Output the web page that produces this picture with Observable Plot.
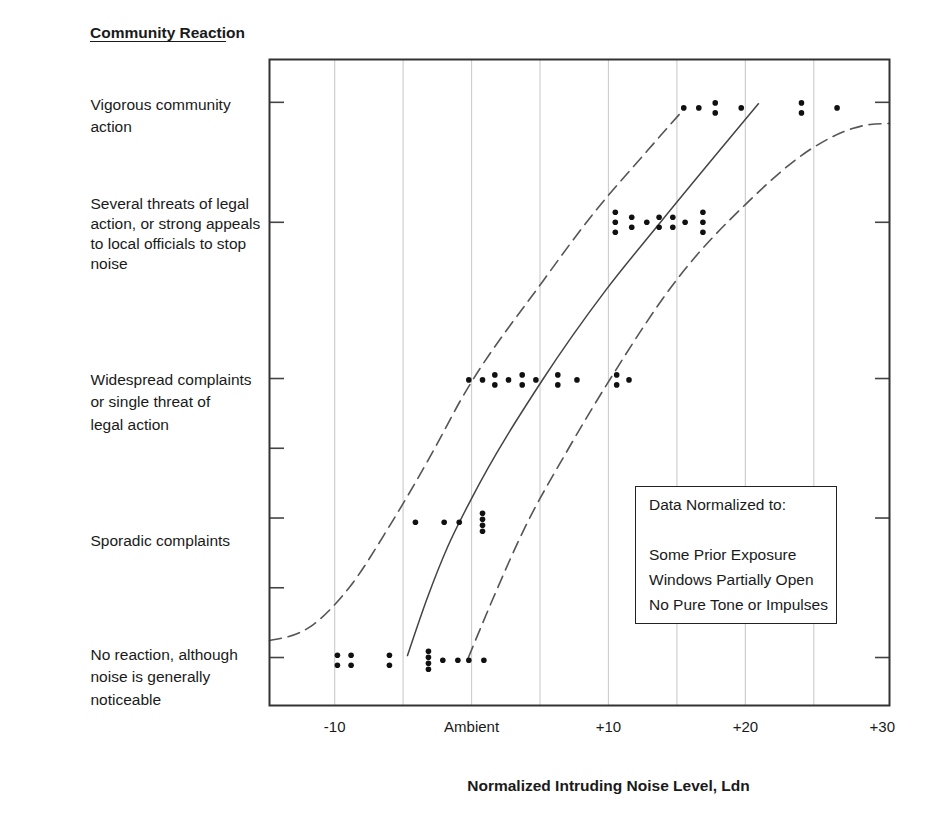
<!DOCTYPE html>
<html>
<head>
<meta charset="utf-8">
<script src="https://cdn.jsdelivr.net/npm/d3@7"></script>
<script src="https://cdn.jsdelivr.net/npm/@observablehq/plot@0.6"></script>
<style>
  body { margin: 0; background: #fff; font-family: "Liberation Sans", Arial, sans-serif; color: #1a1a1a; }
  #wrap { position: relative; width: 949px; height: 815px; overflow: hidden; }
  #chart { position: absolute; left: 0; top: 0; }
  #title { position: absolute; left: 90px; top: 23px; font-size: 15.5px; font-weight: bold; line-height: 20px; white-space: nowrap; }
  #title span { text-decoration: underline; text-underline-offset: 3px; }
  #note { position: absolute; left: 635px; top: 486px; width: 202px; height: 138px; box-sizing: border-box;
          border: 1.5px solid #222; background: #fff; padding: 5px 0 0 13px; font-size: 15.5px; line-height: 25px; white-space: pre; }
</style>
</head>
<body>
<div id="wrap">
  <div id="chart"></div>
  <div id="title"></div>
  <div id="note"></div>
</div>
<script>
// ---------- text ----------
const titleUnderlined = "Community Reacti";
const titleRest = "on";
const xAxisLabel = "Normalized Intruding Noise Level, Ldn";
const noteLines = ["Data Normalized to:", "", "Some Prior Exposure", "Windows Partially Open", "No Pure Tone or Impulses"];

// ---------- x axis ----------
const xTicks = [-10, 0, 10, 20, 30];
const xTickLabels = ["-10", "Ambient", "+10", "+20", "+30"];
const gridX = [-10, -5, 0, 5, 10, 15, 20, 25];

// ---------- reaction levels ----------
const levelLabels = [
  "No reaction, although\nnoise is generally\nnoticeable",
  "Sporadic complaints",
  "Widespread complaints\nor single threat of\nlegal action",
  "Several threats of legal\naction, or strong appeals\nto local officials to stop\nnoise",
  "Vigorous community\naction"
];
const levelY = [0, 1, 2, 3.12, 3.98];
const minorY = [0.5, 1.5];

// ---------- observed cases (x = normalized level, n = number of stacked cases) ----------
const vigorousY = 3.94;
const vigorousX = [15.5, 16.6, 17.8, 19.7, 24.1, 26.7];
const vigorousN = [1, 1, 2, 1, 2, 1];

const severalY = 3.12;
const severalX = [10.5, 11.7, 12.8, 13.7, 14.7, 15.6, 16.9];
const severalN = [3, 2, 1, 2, 2, 1, 3];

const widespreadY = 1.99;
const widespreadX = [-0.2, 0.8, 1.7, 2.7, 3.7, 4.7, 6.3, 7.7, 10.6, 11.5];
const widespreadN = [1, 1, 2, 1, 2, 1, 2, 1, 2, 1];

const sporadicY = 0.97;
const sporadicX = [-4.1, -2.0, -0.9, 0.8];
const sporadicN = [1, 1, 1, 4];

const noReactionY = -0.02;
const noReactionX = [-9.8, -8.8, -6.0, -3.15, -2.1, -1.0, -0.2, 0.9];
const noReactionN = [2, 2, 2, 4, 1, 1, 1, 1];

// ---------- curves ----------
const solidX = [-4.68, -3.22, -1.76, -0.08, 5.25, 9.78, 13.8, 20.96];
const solidY = [0.014, 0.43, 0.79, 1.125, 2.0, 2.63, 3.12, 3.97];

const upperX = [-14.76, -11.77, -8.99, -5.93, -2.78, -0.81, 5.25, 8.9, 12.85, 15.62];
const upperY = [0.122, 0.222, 0.495, 0.953, 1.484, 1.842, 2.703, 3.183, 3.634, 3.943];

const lowerX = [-0.23, 1.6, 3.79, 7.0, 10.15, 15.11, 20.0, 24.97, 27.82, 29.13, 30.53];
const lowerY = [0, 0.43, 0.91, 1.484, 2.0, 2.724, 3.247, 3.656, 3.792, 3.821, 3.828];

// ---------- build ----------
document.getElementById("title").innerHTML = `<span>${titleUnderlined}</span>${titleRest}`;
document.getElementById("note").textContent = noteLines.join("\n");

const W = 949, H = 815, mL = 269, mR = 60, mT = 59, mB = 110;
const ink = "#1a1a1a";

const rows = [
  {y: vigorousY, xs: vigorousX, ns: vigorousN},
  {y: severalY, xs: severalX, ns: severalN},
  {y: widespreadY, xs: widespreadX, ns: widespreadN},
  {y: sporadicY, xs: sporadicX, ns: sporadicN},
  {y: noReactionY, xs: noReactionX, ns: noReactionN}
];
const dots = [];
for (const r of rows) {
  r.xs.forEach((x, i) => {
    const n = r.ns[i];
    const gap = n >= 4 ? 6 : 10;
    for (let k = 0; k < n; k++) dots.push({x, y: r.y, off: (k - (n - 1) / 2) * gap});
  });
}
const offsets = [...new Set(dots.map(d => d.off))];
const dotMarks = offsets.map(o => Plot.dot(dots.filter(d => d.off === o), {x: "x", y: "y", dy: o, r: 2.8, fill: "#111", stroke: "none"}));

const solid = solidX.map((x, i) => ({x, y: solidY[i]}));
const upper = upperX.map((x, i) => ({x, y: upperY[i]}));
const lower = lowerX.map((x, i) => ({x, y: lowerY[i]}));

// label placement tweaks (px): first-line offset from level tick, line height
const labelFirstDy = [-5, 21, -1, -20, 0];
const labelLineH = [1.45, 1.45, 1.45, 1.3, 1.45];
const labelMarks = levelLabels.map((t, i) => {
  const n = t.split("\n").length;
  const lh = labelLineH[i];
  return Plot.text([levelY[i]], {
    y: d => d, text: () => t, frameAnchor: "left", dx: 90 - mL,
    dy: labelFirstDy[i] + (n - 1) / 2 * lh * 15.5,
    textAnchor: "start", lineAnchor: "middle", lineHeight: lh, fontSize: 15.5, fill: ink
  });
});

const plotW = W - mL - mR;
const chart = Plot.plot({
  width: W, height: H,
  marginLeft: mL, marginRight: mR, marginTop: mT, marginBottom: mB,
  x: {domain: [-14.76, 30.53], axis: null},
  y: {domain: [-0.344, 4.287], axis: null},
  style: {fontFamily: '"Liberation Sans", Arial, sans-serif', fontSize: "15.5px", color: ink, background: "white", overflow: "visible"},
  marks: [
    Plot.ruleX(gridX, {x: d => d, stroke: "#cfcfcf", strokeWidth: 1.2}),
    Plot.line(upper, {x: "x", y: "y", curve: "monotone-x", stroke: "#555", strokeWidth: 1.6, strokeDasharray: "12,7"}),
    Plot.line(lower, {x: "x", y: "y", curve: "monotone-x", stroke: "#555", strokeWidth: 1.6, strokeDasharray: "12,7"}),
    Plot.line(solid, {x: "x", y: "y", curve: "monotone-x", stroke: "#444", strokeWidth: 1.5}),
    ...dotMarks,
    Plot.tickY([...levelY, ...minorY], {y: d => d, insetRight: plotW - 15, stroke: "#444", strokeWidth: 1.6}),
    Plot.tickY(levelY, {y: d => d, insetLeft: plotW - 14, stroke: "#444", strokeWidth: 1.6}),
    Plot.frame({stroke: "#333", strokeWidth: 2}),
    Plot.axisX(xTicks, {tickSize: 0, tickPadding: 16, label: null, fontSize: 15, fill: ink,
      tickFormat: d => xTickLabels[xTicks.indexOf(d)]}),
    ...labelMarks,
    Plot.text([xAxisLabel], {text: d => d, frameAnchor: "bottom", dx: 29, dy: 85, fontWeight: "bold", fontSize: 15.5, fill: ink})
  ]
});
document.getElementById("chart").appendChild(chart);
</script>
</body>
</html>
